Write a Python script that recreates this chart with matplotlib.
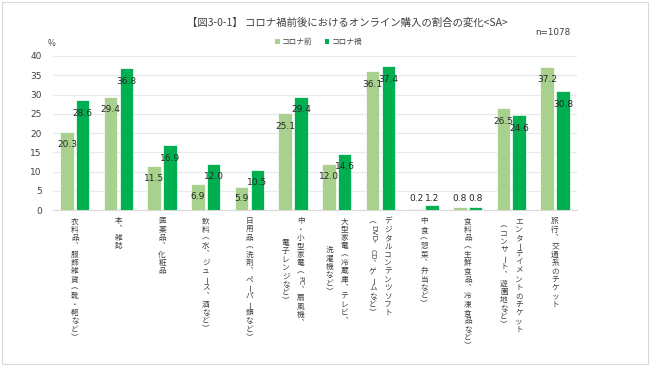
import numpy as np
import matplotlib
matplotlib.use("Agg")
import matplotlib.pyplot as plt
import matplotlib.transforms as mtrans
from matplotlib.patches import Patch, Rectangle

plt.rcParams['font.family'] = ['Noto Sans CJK JP', 'DejaVu Sans']

# data
categories = [
    ["衣料品、服飾雑貨（靴・鞄など）"],
    ["本、雑誌"],
    ["医薬品、化粧品"],
    ["飲料（水、ジュース、酒など）"],
    ["日用品（洗剤、ペーパー類など）"],
    ["中・小型家電（PC、扇風機、", "電子レンジなど）"],
    ["大型家電（冷蔵庫、テレビ、", "洗濯機など）"],
    ["デジタルコンテンツソフト", "（DVD、CD、ゲームなど）"],
    ["中食（惣菜、弁当など）"],
    ["食料品（生鮮食品、冷凍食品など）"],
    ["エンターテイメントのチケット", "（コンサート、遊園地など）"],
    ["旅行、交通系のチケット"],
]
before = [20.3, 29.4, 11.5, 6.9, 5.9, 25.1, 12.0, 36.1, 0.2, 0.8, 26.5, 37.2]
during = [28.6, 36.8, 16.9, 12.0, 10.5, 29.4, 14.6, 37.4, 1.2, 0.8, 24.6, 30.8]
series_names = ["コロナ前", "コロナ禍"]
title = "【図3-0-1】 コロナ禍前後におけるオンライン購入の割合の変化<SA>"

c_light = "#A9D18E"
c_dark = "#00B050"

fig = plt.figure(figsize=(6.5, 3.66), dpi=100)
fig.patches.append(Rectangle((0.003, 0.005), 0.994, 0.99, transform=fig.transFigure,
                             fill=False, edgecolor="#D9D9D9", lw=0.8))
ax = fig.add_axes([0.0815, 0.426, 0.806, 0.421])

x = np.arange(len(before))
w = 0.31
off = 0.18
ax.bar(x - off, before, w, color=c_light, edgecolor="white", lw=0.5, zorder=3)
ax.bar(x + off, during, w, color=c_dark, edgecolor="white", lw=0.5, zorder=3)

for xi, v in zip(x, before):
    ax.text(xi - off, max(v - 3.4, 3.0), f"{v:.1f}", ha="center", va="center",
            fontsize=6.5, family="DejaVu Sans", color="#262626", zorder=4)
for xi, v in zip(x, during):
    ax.text(xi + off, max(v - 3.4, 3.0), f"{v:.1f}", ha="center", va="center",
            fontsize=6.5, family="DejaVu Sans", color="#262626", zorder=4)

ax.set_xlim(-0.5, len(x) - 0.5)
ax.set_ylim(0, 40)
ax.set_yticks(range(0, 41, 5))
ax.set_yticklabels([str(t) for t in range(0, 41, 5)], family="DejaVu Sans", fontsize=6.5, color="#404040")
ax.set_xticks([])
ax.tick_params(axis="y", length=0, pad=8)
ax.yaxis.grid(True, color="#E6EAEF", lw=0.9, zorder=0)
for s in ["top", "right", "left"]:
    ax.spines[s].set_visible(False)
ax.spines["bottom"].set_color("#D9D9D9")

# vertical (tategaki) category labels
fs = 5.5     # glyph size
step = 6.0   # advance per character, points
vmap = {"、": "︑", "（": "︵", "）": "︶"}
base = mtrans.blended_transform_factory(ax.transData, ax.transAxes)


def tokens(s):
    out = []
    i = 0
    while i < len(s):
        if s[i].isascii():
            j = i
            while j < len(s) and s[j].isascii():
                j += 1
            out.append((s[i:j], -90, 0.62 * (j - i)))
            i = j
        elif s[i] == "ー":
            out.append((s[i], -90, 1.0))
            i += 1
        else:
            out.append((vmap.get(s[i], s[i]), 0, 1.0))
            i += 1
    return out


for xi, cols in zip(x, categories):
    toks = [tokens(c) for c in cols]
    lens = [sum(t[2] for t in tk) for tk in toks]
    mx = max(lens)
    n = len(cols)
    for k, (tk, ln) in enumerate(zip(toks, lens)):
        dx = 0 if n == 1 else (5.4 if k == 0 else -5.4)
        y = -5.0 - (mx - ln) / 2 * step
        for ch, rot, adv in tk:
            cy = y - adv * step / 2
            tr = mtrans.offset_copy(base, fig=fig, x=dx, y=cy, units="points")
            kw = {"family": "DejaVu Sans"} if ch.isascii() else {}
            ax.text(xi, 0, ch, transform=tr, rotation=rot, ha="center", va="center",
                    fontsize=fs if not ch.isascii() else fs - 0.3, color="#404040", **kw)
            y -= adv * step

fig.text(0.534, 0.937, title, ha="center", va="center", fontsize=7.5, color="#404040")
fig.text(0.851, 0.91, "n=1078", ha="center", va="center", fontsize=6.3,
         family="DejaVu Sans", color="#404040")
fig.text(0.08, 0.882, "%", ha="center", va="center", fontsize=6, color="#404040")

handles = [Patch(facecolor=c_light), Patch(facecolor=c_dark)]
fig.legend(handles, series_names, loc="center", bbox_to_anchor=(0.49, 0.885), ncol=2,
           frameon=False, fontsize=5.5, handlelength=0.6, handleheight=0.6,
           handletextpad=0.3, columnspacing=1.6, labelcolor="#404040")

fig.savefig("out.png", dpi=100)
